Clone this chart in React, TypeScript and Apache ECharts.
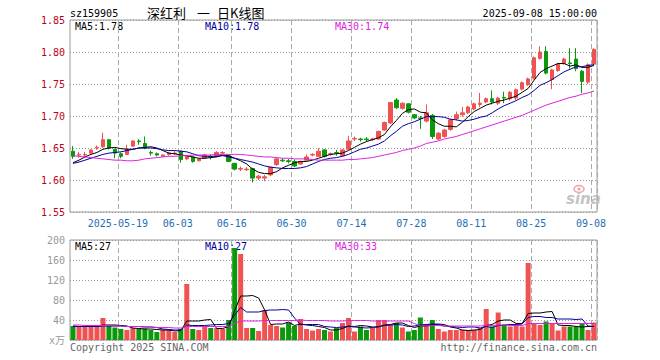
import React, { useEffect, useRef } from "react";
import * as echarts from "echarts";

const dates = [
  "2025-05-07","2025-05-08","2025-05-09","2025-05-12","2025-05-13","2025-05-14","2025-05-15","2025-05-16","2025-05-19","2025-05-20",
  "2025-05-21","2025-05-22","2025-05-23","2025-05-26","2025-05-27","2025-05-28","2025-05-29","2025-05-30","2025-06-03","2025-06-04",
  "2025-06-05","2025-06-06","2025-06-09","2025-06-10","2025-06-11","2025-06-12","2025-06-13","2025-06-16","2025-06-17","2025-06-18",
  "2025-06-19","2025-06-20","2025-06-23","2025-06-24","2025-06-25","2025-06-26","2025-06-27","2025-06-30","2025-07-01","2025-07-02",
  "2025-07-03","2025-07-04","2025-07-07","2025-07-08","2025-07-09","2025-07-10","2025-07-11","2025-07-14","2025-07-15","2025-07-16",
  "2025-07-17","2025-07-18","2025-07-21","2025-07-22","2025-07-23","2025-07-24","2025-07-25","2025-07-28","2025-07-29","2025-07-30",
  "2025-07-31","2025-08-01","2025-08-04","2025-08-05","2025-08-06","2025-08-07","2025-08-08","2025-08-11","2025-08-12","2025-08-13",
  "2025-08-14","2025-08-15","2025-08-18","2025-08-19","2025-08-20","2025-08-21","2025-08-22","2025-08-25","2025-08-26","2025-08-27",
  "2025-08-28","2025-08-29","2025-09-01","2025-09-02","2025-09-03","2025-09-04","2025-09-05","2025-09-08"
];

const opens = [
  1.645,1.639,1.639,1.642,1.650,1.652,1.663,1.648,1.641,1.640,
  1.653,1.661,1.657,1.643,1.641,1.637,1.640,1.641,1.645,1.633,
  1.636,1.630,1.634,1.637,1.637,1.642,1.638,1.626,1.617,1.616,
  1.618,1.603,1.603,1.608,1.624,1.631,1.630,1.629,1.625,1.631,
  1.639,1.637,1.647,1.640,1.643,1.638,1.648,1.664,1.664,1.664,
  1.663,1.664,1.678,1.689,1.725,1.712,1.719,1.702,1.697,1.692,
  1.701,1.664,1.668,1.679,1.696,1.702,1.705,1.711,1.718,1.722,
  1.727,1.720,1.729,1.727,1.728,1.742,1.749,1.759,1.790,1.801,
  1.757,1.771,1.782,1.783,1.789,1.770,1.753,1.781
];
const closes = [
  1.637,1.640,1.640,1.647,1.651,1.663,1.650,1.642,1.637,1.648,
  1.661,1.660,1.650,1.642,1.639,1.639,1.642,1.642,1.632,1.637,
  1.629,1.633,1.639,1.636,1.643,1.643,1.629,1.617,1.618,1.617,
  1.603,1.606,1.605,1.620,1.633,1.630,1.629,1.622,1.629,1.636,
  1.640,1.645,1.637,1.641,1.642,1.647,1.661,1.665,1.663,1.663,
  1.664,1.676,1.690,1.721,1.713,1.720,1.706,1.697,1.696,1.705,
  1.668,1.673,1.678,1.694,1.702,1.705,1.714,1.719,1.720,1.727,
  1.722,1.728,1.728,1.737,1.741,1.752,1.758,1.791,1.800,1.767,
  1.772,1.781,1.789,1.782,1.774,1.754,1.780,1.804
];
const lows = [
  1.633,1.635,1.636,1.640,1.647,1.650,1.648,1.634,1.634,1.639,
  1.652,1.655,1.648,1.638,1.637,1.636,1.638,1.639,1.627,1.631,
  1.627,1.629,1.633,1.632,1.636,1.640,1.628,1.615,1.614,1.614,
  1.596,1.600,1.598,1.606,1.622,1.628,1.626,1.620,1.624,1.630,
  1.637,1.636,1.635,1.638,1.638,1.637,1.647,1.661,1.660,1.660,
  1.661,1.663,1.677,1.688,1.711,1.710,1.704,1.695,1.680,1.690,
  1.664,1.662,1.666,1.677,1.693,1.699,1.703,1.709,1.714,1.720,
  1.718,1.717,1.720,1.724,1.725,1.740,1.747,1.757,1.788,1.765,
  1.742,1.769,1.780,1.774,1.770,1.736,1.750,1.779
];
const highs = [
  1.653,1.644,1.644,1.648,1.654,1.674,1.664,1.649,1.643,1.655,
  1.662,1.664,1.668,1.646,1.643,1.640,1.644,1.645,1.646,1.638,
  1.637,1.634,1.641,1.640,1.645,1.645,1.640,1.627,1.621,1.620,
  1.619,1.608,1.608,1.621,1.635,1.634,1.633,1.632,1.630,1.640,
  1.642,1.650,1.648,1.643,1.647,1.648,1.669,1.668,1.666,1.667,
  1.666,1.677,1.691,1.722,1.728,1.721,1.720,1.703,1.700,1.718,
  1.703,1.675,1.680,1.696,1.707,1.714,1.716,1.721,1.736,1.729,
  1.740,1.730,1.738,1.739,1.743,1.754,1.760,1.793,1.809,1.809,
  1.774,1.783,1.791,1.806,1.806,1.772,1.782,1.806
];

const ma5 = [
  1.627,1.631,1.636,1.640,1.643,1.648,1.650,1.651,1.649,1.648,
  1.648,1.650,1.651,1.652,1.650,1.646,1.642,1.641,1.639,1.638,
  1.636,1.634,1.634,1.635,1.636,1.639,1.638,1.634,1.630,1.625,
  1.617,1.612,1.610,1.610,1.613,1.619,1.623,1.627,1.629,1.629,
  1.631,1.634,1.637,1.640,1.641,1.642,1.646,1.651,1.656,1.660,
  1.663,1.666,1.671,1.683,1.693,1.704,1.710,1.711,1.706,1.705,
  1.694,1.688,1.684,1.684,1.683,1.690,1.699,1.707,1.712,1.717,
  1.720,1.723,1.725,1.728,1.731,1.737,1.743,1.756,1.768,1.774,
  1.778,1.782,1.782,1.778,1.780,1.776,1.776,1.779
];
const ma10 = [
  1.626,1.628,1.631,1.634,1.637,1.640,1.642,1.643,1.644,1.646,
  1.648,1.650,1.650,1.650,1.649,1.647,1.646,1.646,1.645,1.644,
  1.641,1.638,1.637,1.637,1.637,1.638,1.636,1.634,1.632,1.630,
  1.628,1.625,1.622,1.620,1.619,1.618,1.618,1.618,1.619,1.621,
  1.625,1.629,1.632,1.634,1.635,1.637,1.640,1.644,1.648,1.650,
  1.653,1.656,1.661,1.669,1.676,1.684,1.688,1.691,1.695,1.699,
  1.699,1.699,1.698,1.695,1.694,1.692,1.693,1.695,1.698,1.700,
  1.705,1.711,1.716,1.720,1.724,1.729,1.733,1.740,1.748,1.752,
  1.757,1.763,1.769,1.773,1.777,1.777,1.779,1.780
];
const ma30 = [
  1.638,1.637,1.636,1.635,1.634,1.633,1.632,1.631,1.631,1.630,
  1.630,1.631,1.633,1.634,1.635,1.636,1.637,1.637,1.638,1.638,
  1.639,1.639,1.639,1.639,1.640,1.640,1.640,1.640,1.640,1.639,
  1.638,1.637,1.636,1.636,1.635,1.634,1.634,1.633,1.633,1.633,
  1.632,1.631,1.631,1.631,1.631,1.631,1.632,1.632,1.633,1.634,
  1.635,1.637,1.639,1.641,1.643,1.646,1.648,1.650,1.653,1.657,
  1.659,1.661,1.664,1.666,1.668,1.671,1.674,1.677,1.680,1.683,
  1.686,1.689,1.692,1.695,1.698,1.701,1.705,1.709,1.713,1.717,
  1.720,1.723,1.726,1.729,1.731,1.734,1.736,1.739
];

const volumes = [
  28,26,27,27,26,44,28,25,22,20,
  24,23,23,20,16,20,20,16,22,112,
  22,20,26,24,24,22,40,184,172,24,
  24,18,60,30,28,25,35,28,42,22,
  19,22,20,17,24,34,44,17,27,20,
  24,40,40,30,34,25,17,20,45,32,
  40,22,17,20,20,20,20,20,24,62,
  27,55,30,27,28,27,154,32,30,37,
  34,19,27,27,27,32,20,35
];
const volMa5 = [
  28,27,27,27,27,30,30,30,29,28,
  24,23,22,22,21,20,20,18,19,38,
  38,38,40,41,23,23,27,59,88,88,
  89,84,60,31,32,32,36,29,32,30,
  29,27,25,20,20,23,28,27,29,28,
  26,26,30,31,34,34,29,25,28,28,
  31,32,31,26,24,20,19,20,21,29,
  31,38,40,40,33,33,53,54,54,56,
  57,30,29,29,27,26,27,27
];
const volMa10 = [
  27,27,27,27,27,28,28,28,28,27,
  27,27,26,26,25,22,21,20,20,30,
  29,29,29,30,31,31,33,50,65,56,
  56,56,59,60,60,61,60,44,31,31,
  31,31,27,26,25,26,27,26,25,24,
  25,27,29,30,31,30,27,28,30,31,
  32,31,28,27,26,25,26,26,24,27,
  25,29,30,31,31,32,45,47,47,45,
  45,42,42,42,41,42,28,27
];
const volMa30 = [
  30,30,29,29,29,29,29,28,28,27,
  27,27,26,26,25,25,25,24,24,27,
  27,27,27,27,27,27,27,33,38,38,
  38,38,39,39,39,39,39,39,40,39,
  39,39,39,38,38,38,39,39,39,39,
  38,38,38,38,38,38,38,33,28,28,
  29,29,28,28,28,28,28,28,28,29,
  29,30,30,29,29,29,33,33,33,33,
  33,33,33,33,33,33,33,33
];

const labelIndices = [8, 18, 27, 37, 47, 57, 67, 77, 87];

const RED = "#f05252";
const GREEN = "#0b990b";
const MA5C = "#000000";
const MA10C = "#000099";
const MA30C = "#dd22dd";
const MONO = '"DejaVu Sans Mono", monospace';

export default function App() {
  const ref = useRef<HTMLDivElement>(null);
  useEffect(() => {
    const chart = echarts.init(ref.current as HTMLDivElement, null, { renderer: "svg" });
    const showIdx = (i: number) => labelIndices.indexOf(i) >= 0;
    const last = dates.length - 1;
    const txt = (x: number, y: number, text: string, fill: string, font: string, align = "left") => ({
      type: "text",
      x,
      y,
      silent: true,
      style: { text, fill, font, textAlign: align, textVerticalAlign: "middle", verticalAlign: "middle" },
    });
    const option: any = {
      animation: false,
      backgroundColor: "#ffffff",
      grid: [
        { left: 70, right: 63, top: 20, height: 192, show: true, borderColor: "#999", borderWidth: 1 },
        { left: 70, right: 63, top: 240, height: 100, show: true, borderColor: "#999", borderWidth: 1 },
      ],
      xAxis: [
        {
          type: "category",
          gridIndex: 0,
          data: dates,
          boundaryGap: true,
          axisLine: { show: false },
          axisTick: { show: false },
          axisLabel: {
            interval: (i: number) => showIdx(i),
            formatter: (v: string, i: number) => (i === 8 ? v : v.slice(5)),
            color: "#1f6fb2",
            fontSize: 10,
            fontFamily: MONO,
            margin: 6,
            padding: [0, 6, 0, 0],
          },
          splitLine: {
            show: true,
            interval: (i: number) => showIdx(i),
            lineStyle: { color: "#aaa", type: [5, 3], width: 1 },
          },
        },
        {
          type: "category",
          gridIndex: 1,
          data: dates,
          boundaryGap: true,
          axisLine: { show: false },
          axisTick: { show: false },
          axisLabel: { show: false },
          splitLine: {
            show: true,
            interval: (i: number) => showIdx(i),
            lineStyle: { color: "#aaa", type: [5, 3], width: 1 },
          },
        },
      ],
      yAxis: [
        {
          type: "value",
          gridIndex: 0,
          min: 1.55,
          max: 1.85,
          interval: 0.05,
          axisLine: { show: false },
          axisTick: { show: false },
          axisLabel: {
            formatter: (v: number) => v.toFixed(2),
            color: "#c0001a",
            fontSize: 10,
            fontFamily: MONO,
            margin: 5,
          },
          splitLine: { show: true, lineStyle: { color: "#999", type: [1, 2], width: 1 } },
        },
        {
          type: "value",
          gridIndex: 1,
          min: 0,
          max: 200,
          interval: 40,
          axisLine: { show: false },
          axisTick: { show: false },
          axisLabel: {
            formatter: (v: number) => (v === 0 ? "x万" : String(v)),
            color: "#999",
            fontSize: 10,
            fontFamily: '"DejaVu Sans Mono", "Noto Sans CJK SC", monospace',
            margin: 5,
          },
          splitLine: { show: true, lineStyle: { color: "#999", type: [1, 2], width: 1 } },
        },
      ],
      series: [
        {
          type: "candlestick",
          xAxisIndex: 0,
          yAxisIndex: 0,
          barWidth: 4,
          silent: true,
          data: dates.map((_, i) => [opens[i], closes[i], lows[i], highs[i]]),
          itemStyle: { color: RED, color0: GREEN, borderColor: RED, borderColor0: GREEN, borderWidth: 1 },
        },
        { type: "line", xAxisIndex: 0, yAxisIndex: 0, data: ma5, symbol: "none", silent: true, lineStyle: { color: MA5C, width: 1 } },
        { type: "line", xAxisIndex: 0, yAxisIndex: 0, data: ma10, symbol: "none", silent: true, lineStyle: { color: MA10C, width: 1 } },
        { type: "line", xAxisIndex: 0, yAxisIndex: 0, data: ma30, symbol: "none", silent: true, lineStyle: { color: MA30C, width: 1 } },
        {
          type: "bar",
          xAxisIndex: 1,
          yAxisIndex: 1,
          barWidth: 5,
          silent: true,
          data: volumes.map((v, i) => ({ value: v, itemStyle: { color: closes[i] >= opens[i] ? RED : GREEN } })),
        },
        { type: "line", xAxisIndex: 1, yAxisIndex: 1, data: volMa5, symbol: "none", silent: true, lineStyle: { color: MA5C, width: 1 } },
        { type: "line", xAxisIndex: 1, yAxisIndex: 1, data: volMa10, symbol: "none", silent: true, lineStyle: { color: MA10C, width: 1 } },
        { type: "line", xAxisIndex: 1, yAxisIndex: 1, data: volMa30, symbol: "none", silent: true, lineStyle: { color: MA30C, width: 1 } },
      ],
      graphic: [
        txt(70, 13, "sz159905", "#000", `10px ${MONO}`),
        txt(147, 12, "深红利", "#000", '13px "Noto Sans CJK SC"'),
        txt(197, 12, "一", "#000", '13px "Noto Sans CJK SC"'),
        txt(217, 12, "日K线图", "#000", '13px "Noto Sans CJK SC"'),
        txt(597, 13, `${dates[last]} 15:00:00`, "#000", `10px ${MONO}`, "right"),
        txt(75, 26, `MA5:${ma5[last].toFixed(2)}`, MA5C, `10px ${MONO}`),
        txt(205, 26, `MA10:${ma10[last].toFixed(2)}`, MA10C, `10px ${MONO}`),
        txt(335, 26, `MA30:${ma30[last].toFixed(2)}`, MA30C, `10px ${MONO}`),
        txt(75, 246, `MA5:${volMa5[last]}`, MA5C, `10px ${MONO}`),
        txt(205, 246, `MA10:${volMa10[last]}`, MA10C, `10px ${MONO}`),
        txt(335, 246, `MA30:${volMa30[last]}`, MA30C, `10px ${MONO}`),
        txt(70, 347, "Copyright 2025 SINA.COM", "#666", `10px ${MONO}`),
        txt(597, 347, "http://finance.sina.com.cn", "#666", `10px ${MONO}`, "right"),
        {
          type: "ellipse",
          silent: true,
          shape: { cx: 579, cy: 189, rx: 5, ry: 3.5 },
          style: { fill: "none", stroke: "#f0a0a0", lineWidth: 1.5 },
        },
        { type: "circle", silent: true, shape: { cx: 579, cy: 189, r: 1.5 }, style: { fill: "#f0a0a0" } },
        txt(566, 199, "sina", "#c4c4c4", 'italic bold 15px "DejaVu Sans"'),
      ],
    };
    chart.setOption(option);
    return () => chart.dispose();
  }, []);
  return (
    <div
      ref={ref}
      style={{ position: "fixed", left: 0, top: 0, width: 660, height: 360, background: "#fff" }}
    />
  );
}
